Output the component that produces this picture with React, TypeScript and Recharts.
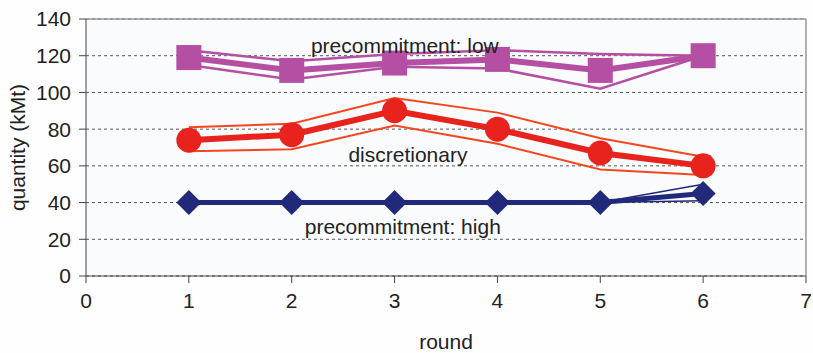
import React from "react";
import {
  CartesianGrid,
  Line,
  LineChart,
  ReferenceDot,
  ReferenceLine,
  XAxis,
  YAxis,
} from "recharts";

const rounds = [1, 2, 3, 4, 5, 6];

const lowMean = [119, 112, 116, 118, 112, 120];
const lowUpper = [123, 117, 121, 123, 121, 120];
const lowLower = [115, 107, 114, 113, 102, 120];

const discMean = [74, 77, 90, 80, 67, 60];
const discUpper = [81, 83, 97, 89, 75, 65];
const discLower = [68, 69, 82, 72, 58, 55];

const highMean = [40, 40, 40, 40, 40, 45];
const highUpper = [40, 40, 40, 40, 40, 50];
const highLower = [40, 40, 40, 40, 40, 41];

const xTicks = [0, 1, 2, 3, 4, 5, 6, 7];
const yTicks = [0, 20, 40, 60, 80, 100, 120, 140];

const annotations = [
  { text: "precommitment: low", x: 3.1, y: 125.8 },
  { text: "discretionary", x: 3.13, y: 65.9 },
  { text: "precommitment: high", x: 3.08, y: 26.7 },
];

const data = rounds.map((r, i) => ({
  round: r,
  lowMean: lowMean[i],
  lowUpper: lowUpper[i],
  lowLower: lowLower[i],
  discMean: discMean[i],
  discUpper: discUpper[i],
  discLower: discLower[i],
  highMean: highMean[i],
  highUpper: highUpper[i],
  highLower: highLower[i],
}));

const LOW = "#b44fa4";
const DISC = "#e8221c";
const DISC_THIN = "#f5461f";
const HIGH = "#212a7a";
const FONT = "'Liberation Sans', Arial, sans-serif";
const FS = 21;

const squareDot = (props: any) => {
  const { cx, cy, index } = props;
  if (cx == null || cy == null) return <g key={index} />;
  return <rect key={index} x={cx - 12.5} y={cy - 12.5} width={25} height={25} fill={LOW} />;
};

const circleDot = (props: any) => {
  const { cx, cy, index } = props;
  if (cx == null || cy == null) return <g key={index} />;
  return <circle key={index} cx={cx} cy={cy} r={12.5} fill={DISC} />;
};

const diamondDot = (props: any) => {
  const { cx, cy, index } = props;
  if (cx == null || cy == null) return <g key={index} />;
  const h = 12.5;
  return (
    <polygon
      key={index}
      points={`${cx},${cy - h} ${cx + h},${cy} ${cx},${cy + h} ${cx - h},${cy}`}
      fill={HIGH}
    />
  );
};

export default function App() {
  return (
    <div style={{ position: "absolute", left: 0, top: 0, background: "#fefefe", fontFamily: FONT }}>
      <LineChart
        width={813}
        height={353}
        data={data}
        margin={{ top: 19, right: 7, bottom: 0, left: 0 }}
      >
        <CartesianGrid
          vertical={false}
          stroke="#555"
          strokeDasharray="3 3"
          fill="#fafbfd"
        />
        <XAxis
          dataKey="round"
          type="number"
          domain={[0, 7]}
          ticks={xTicks}
          height={77}
          tickSize={7}
          tickMargin={10}
          stroke="#444"
          tick={{ fill: "#222", fontSize: FS, fontFamily: FONT }}
          label={{
            value: "round",
            position: "insideBottom",
            offset: 4,
            fill: "#222",
            fontSize: FS,
            fontFamily: FONT,
          }}
        />
        <YAxis
          type="number"
          domain={[0, 140]}
          ticks={yTicks}
          width={86}
          tickSize={7}
          tickMargin={8}
          stroke="#444"
          tick={{ fill: "#222", fontSize: FS, fontFamily: FONT }}
          label={{
            value: "quantity (kMt)",
            angle: -90,
            position: "insideLeft",
            offset: 18,
            fill: "#222",
            fontSize: FS,
            fontFamily: FONT,
            style: { textAnchor: "middle" },
          }}
        />
        <ReferenceLine y={140} stroke="#999" strokeWidth={1.5} />
        <ReferenceLine x={7} stroke="#999" strokeWidth={1.5} />

        <Line dataKey="lowUpper" stroke={LOW} strokeWidth={2.5} dot={false} isAnimationActive={false} />
        <Line dataKey="lowLower" stroke={LOW} strokeWidth={2.5} dot={false} isAnimationActive={false} />
        <Line dataKey="discUpper" stroke={DISC_THIN} strokeWidth={2} dot={false} isAnimationActive={false} />
        <Line dataKey="discLower" stroke={DISC_THIN} strokeWidth={2} dot={false} isAnimationActive={false} />
        <Line dataKey="highUpper" stroke={HIGH} strokeWidth={1.5} dot={false} isAnimationActive={false} />
        <Line dataKey="highLower" stroke={HIGH} strokeWidth={1.5} dot={false} isAnimationActive={false} />

        <Line dataKey="lowMean" stroke={LOW} strokeWidth={6} dot={squareDot} isAnimationActive={false} />
        <Line dataKey="discMean" stroke={DISC} strokeWidth={6} dot={circleDot} isAnimationActive={false} />
        <Line dataKey="highMean" stroke={HIGH} strokeWidth={5} dot={diamondDot} isAnimationActive={false} />

        {annotations.map((a) => (
          <ReferenceDot
            key={a.text}
            x={a.x}
            y={a.y}
            r={0}
            fill="none"
            stroke="none"
            label={{ value: a.text, position: "center", fill: "#222", fontSize: FS, fontFamily: FONT }}
          />
        ))}
      </LineChart>
    </div>
  );
}
